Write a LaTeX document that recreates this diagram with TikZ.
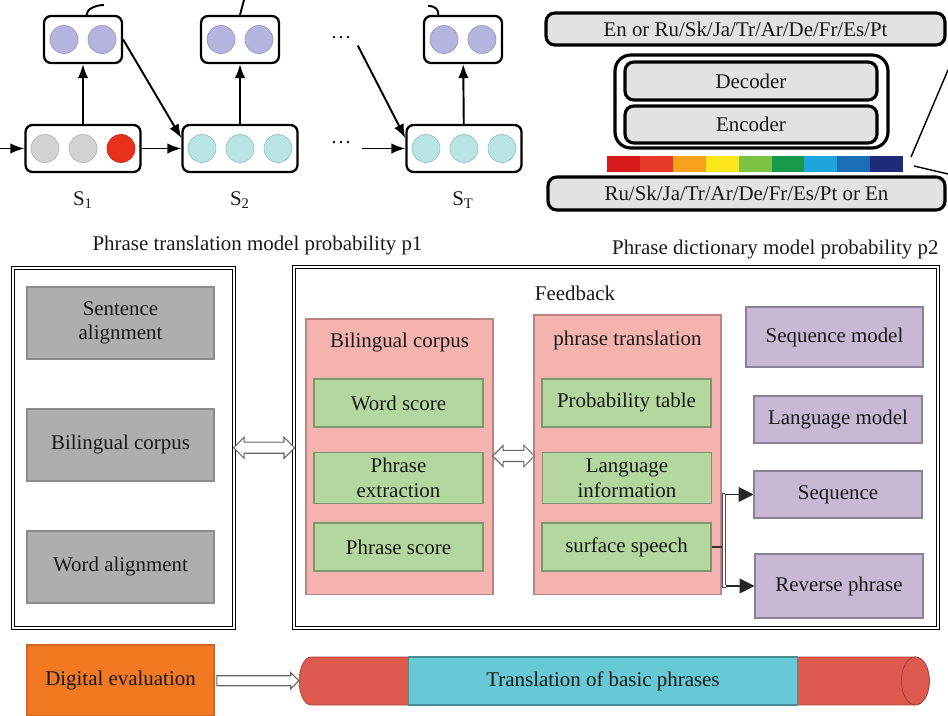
\documentclass[tikz,border=0pt]{standalone}
\usepackage{fontspec}
\setmainfont{Liberation Serif}
\usetikzlibrary{positioning, calc, shapes, shapes.arrows, arrows.meta}

\definecolor{hidpurple}{HTML}{B4B4DE}
\definecolor{ingray}{HTML}{D2D2D2}
\definecolor{inred}{HTML}{E8301C}
\definecolor{incyan}{HTML}{B8E4E3}
\definecolor{langgray}{HTML}{E2E2E2}
\definecolor{stagegray}{HTML}{AEAEB1}
\definecolor{corpuspink}{HTML}{F4B3AE}
\definecolor{itemgreen}{HTML}{B3D79F}
\definecolor{modelpurple}{HTML}{C7B9D4}
\definecolor{evalorange}{HTML}{F27822}
\definecolor{cylred}{HTML}{DE5A4E}
\definecolor{cylcyan}{HTML}{67C9D5}

\begin{document}
\begin{tikzpicture}[x=0.02cm, y=-0.02cm, >=Latex, semithick,
  every node/.append style={font=\fontsize{11.9}{14}\selectfont, text=black!90},
  cell/.style={draw, line width=1.3pt, rounded corners=4pt, fill=white, minimum height=0.94cm, inner sep=0pt},
  unit/.style={circle, inner sep=0pt, minimum size=0.56cm, draw=#1!85!black, thin, fill=#1},
  lang/.style={draw, line width=1.8pt, rounded corners=5pt, fill=langgray, inner sep=0pt},
  frame/.style={draw, double, double distance=1.3pt, line width=0.7pt, inner sep=0pt},
  stage/.style={draw=black!45, fill=stagegray, minimum width=3.74cm, minimum height=1.44cm, align=center},
  corpus/.style={draw=corpuspink!75!black, fill=corpuspink, minimum width=3.74cm},
  greenbox/.style={draw=itemgreen!70!black, fill=itemgreen, minimum width=3.38cm, minimum height=0.96cm, align=center},
  purplebox/.style={draw=modelpurple!70!black, fill=modelpurple, minimum width=3.36cm, minimum height=0.94cm, align=center},
  dblarrow/.style={double arrow, draw=black!60, fill=white, inner xsep=0pt, inner ysep=0.1cm, double arrow head extend=0.1cm},
  pipe/.style={draw=black!70, double=white, double distance=1.1pt, line width=0.5pt},
]
\useasboundingbox (0,0) rectangle (948,716);

% recurrent states
\node[cell, minimum width=1.56cm] (top1) at (83,39.5) {};
\node[cell, minimum width=1.56cm] (top2) at (240,39.5) {};
\node[cell, minimum width=1.56cm] (top3) at (463,39.5) {};
\node[cell, minimum width=2.3cm] (bot1) at (83,148.5) {};
\node[cell, minimum width=2.3cm] (bot2) at (240,148.5) {};
\node[cell, minimum width=2.3cm] (bot3) at (464,148.5) {};
\foreach \n in {1,2,3}{
  \node[unit=hidpurple] (top\n a) at ($(top\n)+(-19,0)$) {};
  \node[unit=hidpurple] (top\n b) at ($(top\n)+(19,0)$) {};
}
\node[unit=ingray] (bot1a) at ($(bot1)+(-38,0)$) {};
\node[unit=ingray] (bot1b) at (bot1) {};
\node[unit=inred] (bot1c) at ($(bot1)+(38,0)$) {};
\foreach \n in {2,3}{
  \node[unit=incyan] (bot\n a) at ($(bot\n)+(-38,0)$) {};
  \node[unit=incyan] (bot\n b) at (bot\n) {};
  \node[unit=incyan] (bot\n c) at ($(bot\n)+(38,0)$) {};
}
\node (dots1) at (341,38) {\dots};
\node (dots2) at (341,143) {\dots};
\node (s1) at (83,200) {S\textsubscript{1}};
\node (s2) at (240,200) {S\textsubscript{2}};
\node (sT) at (463,200) {S\textsubscript{T}};
\coordinate (in1) at (0,148.5);
\coordinate (in3) at (362,148.5);
\coordinate (out1) at (104,5);
\coordinate (out2) at (244,0);
\coordinate (out3) at (428,6);

\path[->, line width=1.1pt]
  (in1) edge (bot1)
  (bot1) edge (bot2)
  (in3) edge (bot3)
  (bot1) edge (top1)
  (bot2) edge (top2)
  (bot3) edge (top3)
  (top1.east) edge (bot2.170)
  (dots1.south east) edge (bot3.170);
\draw[line width=1.1pt] ([xshift=2]top1.north) .. controls +(0,-6) and +(-8,0) .. (out1);
\draw[line width=1.1pt] (top2.north) -- (out2);
\draw[line width=1.1pt] ([xshift=-14]top3.north) .. controls +(0,-5) and +(8,0) .. (out3);

% encoder-decoder
\node[lang, minimum width=7.98cm, minimum height=0.64cm] (target) at (745.5,29) {En or Ru/Sk/Ja/Tr/Ar/De/Fr/Es/Pt};
\node[lang, fill=white, rounded corners=9pt, minimum width=5.46cm, minimum height=1.86cm] (seq2seq) at (751.5,101.5) {};
\node[lang, minimum width=5.04cm, minimum height=0.76cm] (dec) at (751,81) {Decoder};
\node[lang, minimum width=5.04cm, minimum height=0.74cm] (enc) at (751,124.5) {Encoder};
\node[lang, minimum width=7.94cm, minimum height=0.66cm] (source) at (746.5,193.5) {Ru/Sk/Ja/Tr/Ar/De/Fr/Es/Pt or En};
\foreach \col [count=\i from 0] in {D7191C,E5392A,F6A21D,FBE71A,7DC243,17994A,1EA5DD,1B6FB8,1F2A78}{
  \definecolor{bandcol}{HTML}{\col}
  \fill[bandcol] (607+\i*32.9,156) rectangle ++(33.2,16);
}
\coordinate (bar1) at (911,157);
\coordinate (bar2) at (914,166);
\coordinate (exit1) at (948,70);
\coordinate (exit2) at (948,174);
\draw[line width=0.8pt] (bar1) -- (exit1);
\draw[line width=0.8pt] (bar2) -- (exit2);

% phrase models
\node (p1) at (257.5,246) {Phrase translation model probability p1};
\node[anchor=east, inner sep=0pt] (p2) at (939,250) {Phrase dictionary model probability p2};
\node[frame, minimum width=4.42cm, minimum height=7.2cm] (align) at (123.5,448) {};
\node[frame, minimum width=12.88cm, minimum height=7.22cm] (dict) at (616,447.5) {};
\node[stage] (sent) at (120.5,323) {Sentence\\alignment};
\node[stage] (bil) at (120.5,445) {Bilingual corpus};
\node[stage] (word) at (120.5,567) {Word alignment};

\node (fb) at (575,293) {Feedback};
\node[corpus, minimum height=5.52cm] (corp1) at (399.5,457) {};
\node[corpus, minimum height=5.6cm] (corp2) at (627.5,455) {};
\node (corp1t) at (399.5,343) {Bilingual corpus};
\node (corp2t) at (627.5,340) {phrase translation};
\node[greenbox] (ws) at (398.5,403) {Word score};
\node[greenbox, minimum height=1cm] (pe) at (398.5,478) {Phrase\\extraction};
\node[greenbox] (ps) at (398.5,547) {Phrase score};
\node[greenbox] (pt) at (626.5,403) {Probability table};
\node[greenbox, minimum height=1cm] (li) at (627,478) {Language\\information};
\node[greenbox] (ss) at (626.5,547) {surface speech};

\node[purplebox, minimum width=3.54cm, minimum height=1.2cm] (sm) at (834.5,337) {Sequence model};
\node[purplebox] (lm) at (838,419.5) {Language model};
\node[purplebox] (sq) at (838,494.5) {Sequence};
\node[purplebox, minimum height=1.28cm] (rp) at (839,586) {Reverse phrase};

\node[dblarrow, minimum height=1.22cm] (link1) at ($(align.east)!.5!(dict.west)$) {};
\node[dblarrow, minimum height=0.84cm] (link2) at ($(corp1.east)!.5!(corp2.west)$) {};

\coordinate (split) at (724,547);
\draw[line width=1.5pt, black!80] (ss.east) -- (split);
\draw[pipe] (split) |- ([xshift=-16]sq.west);
\draw[pipe] (split) |- ([xshift=-16]rp.west);
\draw[-{Triangle[length=8.5pt,width=8.5pt]}, black!85] ([xshift=-16]sq.west) -- (sq.west);
\draw[-{Triangle[length=8.5pt,width=8.5pt]}, black!85] ([xshift=-16]rp.west) -- (rp.west);

% evaluation
\node[fill=evalorange, draw=evalorange!85!black, minimum width=3.74cm, minimum height=1.42cm] (eval) at (120.5,680.5) {Digital evaluation};
\node[inner sep=0pt, outer sep=0pt, minimum width=13cm, minimum height=0.96cm] (cyl) at (615,681) {};
\filldraw[fill=cylred, draw=cylred!75!black, thin] ([xshift=-14]cyl.north east) -- ([xshift=12]cyl.north west)
  arc[start angle=270, end angle=90, x radius=12, y radius=24] -- ([xshift=-14]cyl.south east)
  arc[start angle=90, end angle=-90, x radius=14, y radius=24] -- cycle;
\filldraw[fill=cylred, draw=cylred!70!black, thin] ([xshift=-14]cyl.east) ellipse[x radius=14, y radius=24];
\node[draw=cylcyan!70!black, fill=cylcyan, minimum width=7.78cm, minimum height=0.96cm] (basic) at (603,681) {Translation of basic phrases};
\node[single arrow, draw=black!60, fill=white, inner xsep=0pt, inner ysep=0.09cm, single arrow head extend=0.06cm,
      minimum height=1.64cm] (link3) at ($(eval.east)!.5!(cyl.west)+(3,0)$) {};
\end{tikzpicture}
\end{document}
